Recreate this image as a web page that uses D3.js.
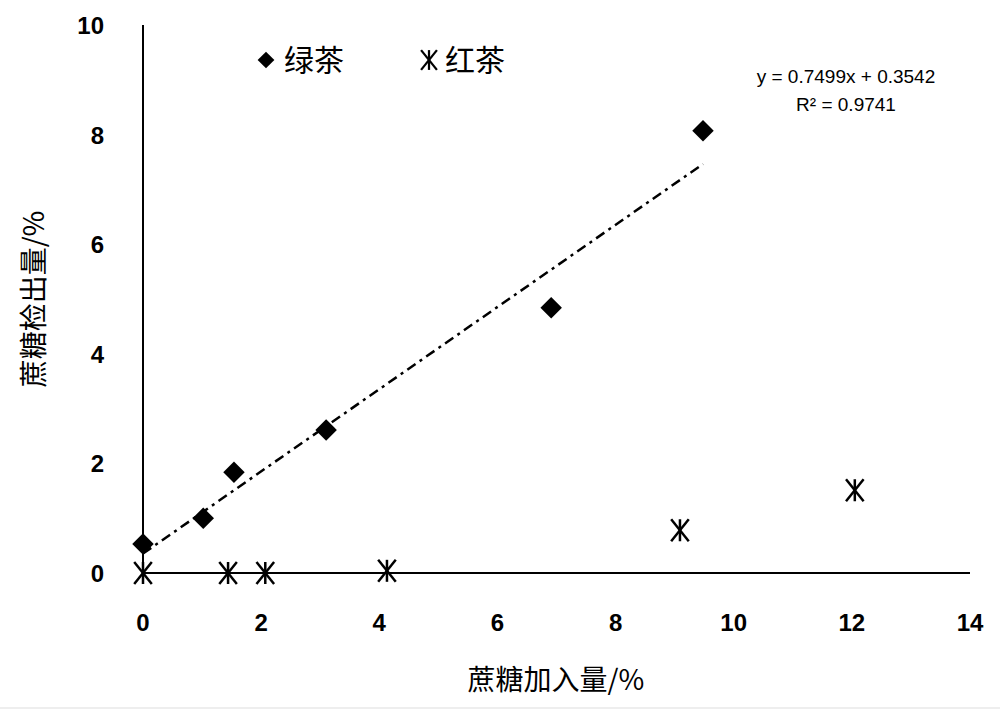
<!DOCTYPE html>
<html><head><meta charset="utf-8">
<script src="https://cdn.jsdelivr.net/npm/d3@7"></script>
<style>body{margin:0;background:#fff}</style>
</head><body><div id="chart"></div>
<script>
// data
var greenX = [0, 1.02, 1.54, 3.1, 6.91, 9.48];
var greenY = [0.53, 1.0, 1.84, 2.61, 4.84, 8.07];
var redX = [0, 1.44, 2.07, 4.13, 9.09, 12.05];
var redY = [0, 0, 0, 0.04, 0.78, 1.51];
var xTicks = [0, 2, 4, 6, 8, 10, 12, 14];
var yTicks = [0, 2, 4, 6, 8, 10];
var slope = 0.7499, intercept = 0.3542;

var svg = d3.select("#chart").append("svg").attr("width", 1000).attr("height", 713);
var x = d3.scaleLinear().domain([0, 14]).range([143, 970]);
var y = d3.scaleLinear().domain([0, 10]).range([573, 25]);
var font = "'Liberation Sans', Arial, sans-serif";
var cjk = "'Noto Sans CJK SC', sans-serif";

// axes (lines only, labels separate)
svg.append("line").attr("x1", x(0)).attr("x2", x(14)).attr("y1", y(0)).attr("y2", y(0)).attr("stroke", "#000").attr("stroke-width", 2);
svg.append("line").attr("x1", x(0)).attr("x2", x(0)).attr("y1", y(0)).attr("y2", y(10)).attr("stroke", "#000").attr("stroke-width", 2);

svg.selectAll(".xt").data(xTicks).enter().append("text")
   .attr("x", function(d) { return x(d); }).attr("y", 631)
   .attr("text-anchor", "middle").attr("font-family", font).attr("font-size", 24).attr("font-weight", "bold")
   .text(function(d) { return d; });
svg.selectAll(".yt").data(yTicks).enter().append("text")
   .attr("x", 104).attr("y", function(d) { return y(d) + 9; })
   .attr("text-anchor", "end").attr("font-family", font).attr("font-size", 24).attr("font-weight", "bold")
   .text(function(d) { return d; });

// axis titles
svg.append("text").attr("x", 556).attr("y", 690).attr("text-anchor", "middle")
   .attr("font-family", cjk).attr("font-size", 28).text("蔗糖加入量/%");
svg.append("text").attr("transform", "translate(44,299) rotate(-90)").attr("text-anchor", "middle")
   .attr("font-family", cjk).attr("font-size", 28).text("蔗糖检出量/%");

// trendline
svg.append("line").attr("x1", x(0)).attr("y1", y(intercept)).attr("x2", x(9.48)).attr("y2", y(slope * 9.48 + intercept))
   .attr("stroke", "#000").attr("stroke-width", 2.5).attr("stroke-dasharray", "10,5,3,5");

// green tea diamonds (rotated squares)
var sq = d3.symbol().type(d3.symbolSquare).size(230);
svg.selectAll(".g").data(greenX).enter().append("path")
   .attr("d", sq).attr("fill", "#000")
   .attr("transform", function(d, i) { return "translate(" + x(d) + "," + y(greenY[i]) + ") rotate(45)"; });

// red tea asterisks
function star(sel) {
  var r = 11;
  sel.append("line").attr("x1", -r * 0.8).attr("y1", -r).attr("x2", r * 0.8).attr("y2", r);
  sel.append("line").attr("x1", r * 0.8).attr("y1", -r).attr("x2", -r * 0.8).attr("y2", r);
  sel.append("line").attr("x1", 0).attr("y1", -r).attr("x2", 0).attr("y2", r);
  sel.selectAll("line").attr("stroke", "#000").attr("stroke-width", 2.5);
}
svg.selectAll(".r").data(redX).enter().append("g")
   .attr("transform", function(d, i) { return "translate(" + x(d) + "," + y(redY[i]) + ")"; })
   .call(star);

// legend
svg.append("path").attr("d", d3.symbol().type(d3.symbolSquare).size(140)).attr("fill", "#000").attr("transform", "translate(266,60) rotate(45)");
svg.append("text").attr("x", 284).attr("y", 71).attr("font-family", cjk).attr("font-size", 30).text("绿茶");
svg.append("g").attr("transform", "translate(429,60) scale(0.9)").call(star);
svg.append("text").attr("x", 445).attr("y", 71).attr("font-family", cjk).attr("font-size", 30).text("红茶");

// equation
svg.append("text").attr("x", 846).attr("y", 83).attr("text-anchor", "middle").attr("font-family", font).attr("font-size", 19)
   .text("y = 0.7499x + 0.3542");
svg.append("text").attr("x", 846).attr("y", 111).attr("text-anchor", "middle").attr("font-family", font).attr("font-size", 19)
   .text("R² = 0.9741");

// faint bottom rule
svg.append("line").attr("x1", 0).attr("x2", 1000).attr("y1", 708).attr("y2", 708).attr("stroke", "#ddd");
</script></body></html>
